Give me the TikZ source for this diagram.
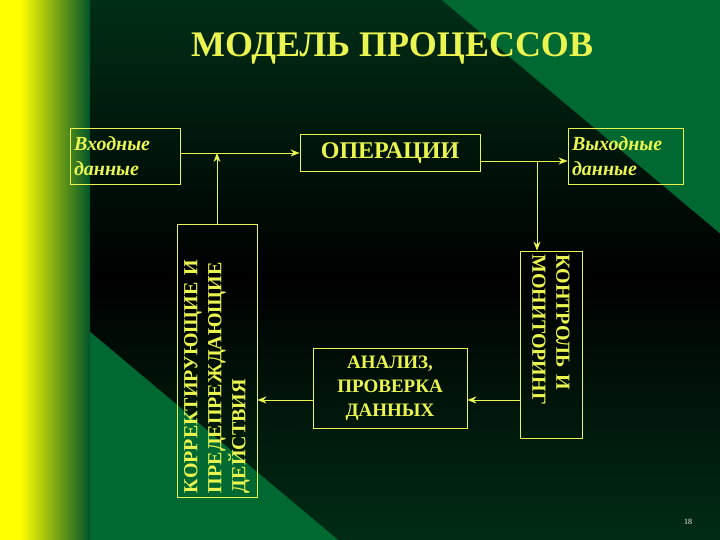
\documentclass[tikz,border=0pt]{standalone}
\usepackage{fontspec}
\setmainfont{Liberation Serif}
\usetikzlibrary{arrows.meta}
\definecolor{ylw}{RGB}{235,245,80}
\definecolor{dgreen}{RGB}{0,105,50}
\tikzset{
  box/.style={draw=ylw, line width=0.8pt, text=ylw, inner sep=0pt, font=\bfseries},
  conn/.style={draw=ylw, line width=0.8pt, -{Stealth[length=9pt,width=7pt]}},
}
\begin{document}
\begin{tikzpicture}[x=1pt,y=-1pt]
\useasboundingbox (0,0) rectangle (720,540);
\fill[dgreen] (0,0) rectangle (720,540);
\begin{scope}
\clip (60,0) rectangle (720,540);
\shade[top color=dgreen, bottom color=dgreen, middle color=black, rotate around={-40:(390,270)}] (-300,30) rectangle (1100,510);
\end{scope}
\shade[left color=yellow, right color=yellow] (0,0) rectangle (20,540);
\shade[left color=yellow, right color=dgreen!80!black] (20,0) rectangle (90,540);
\node[text=ylw, font=\bfseries\fontsize{36}{38}\selectfont] (title) at (392,48) {МОДЕЛЬ ПРОЦЕССОВ};
\node[box, minimum width=110, minimum height=56, font=\bfseries\itshape\fontsize{20}{25}\selectfont, align=left, text width=102] (in) at (125,156) {Входные\\данные};
\node[box, minimum width=180, minimum height=37, font=\bfseries\fontsize{24}{26}\selectfont] (op) at (390,153) {ОПЕРАЦИИ};
\node[box, minimum width=115, minimum height=56, font=\bfseries\itshape\fontsize{20}{25}\selectfont, align=left, text width=107] (out) at (625.5,156) {Выходные\\данные};
\node[box, minimum width=187, minimum height=62, rotate=-90, font=\bfseries\fontsize{20}{24}\selectfont, align=left, text width=180] (ctl) at (551,344.5) {КОНТРОЛЬ И\\МОНИТОРИНГ};
\node[box, minimum width=154, minimum height=80, font=\bfseries\fontsize{19}{24}\selectfont, align=center] (an) at (390,388) {АНАЛИЗ,\\ПРОВЕРКА\\ДАННЫХ};
\node[box, minimum width=273, minimum height=80, rotate=90, font=\bfseries\fontsize{20}{24}\selectfont, align=left, text width=265] (cor) at (217,360.5) {КОРРЕКТИРУЮЩИЕ И\\ПРЕДЕПРЕЖДАЮЩИЕ\\ДЕЙСТВИЯ};
\node[text=white, font=\fontsize{8}{9}\selectfont] (pg) at (688,522) {18};
\coordinate (j1) at (217,153);
\coordinate (j2) at (537,161);
\draw[conn] (in.east |- j1) -- (op.west |- j1);
\draw[conn] (cor.east -| j1) -- (j1);
\draw[conn] (op.east |- j2) -- (out.west |- j2);
\draw[conn] (j2) -- (ctl.west -| j2);
\draw[conn] (ctl.south |- 0,400) -- (an.east |- 0,400);
\draw[conn] (an.west |- 0,400) -- (cor.south |- 0,400);
\end{tikzpicture}
\end{document}
